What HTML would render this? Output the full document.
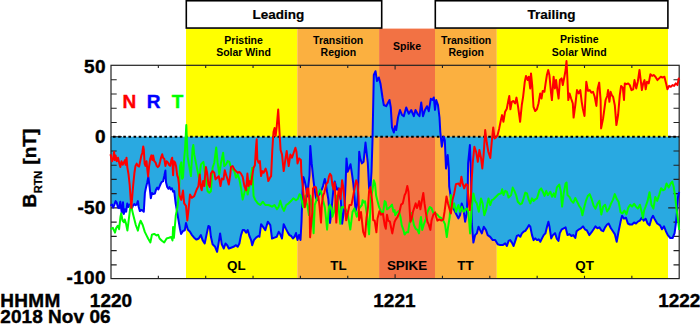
<!DOCTYPE html><html><head><meta charset="utf-8"><style>html,body{margin:0;padding:0;background:#fff;}svg{display:block;}text{font-family:"Liberation Sans",sans-serif;font-weight:bold;}.big{font-size:19px;stroke:#000;stroke-width:0.4px;letter-spacing:0.3px;}</style></head><body>
<svg width="700" height="324" viewBox="0 0 700 324">
<rect x="186" y="28.6" width="111.3" height="250.0" fill="#ffff00"/>
<rect x="297.3" y="28.6" width="81.8" height="250.0" fill="#fbb040"/>
<rect x="379.1" y="28.6" width="55.9" height="250.0" fill="#f27244"/>
<rect x="435" y="28.6" width="61.8" height="250.0" fill="#fbb040"/>
<rect x="496.8" y="28.6" width="171.2" height="250.0" fill="#ffff00"/>
<rect x="186.3" y="0.75" width="195.4" height="27.3" fill="#fff" stroke="#000" stroke-width="1.6"/>
<rect x="435.3" y="0.75" width="232.6" height="27.3" fill="#fff" stroke="#000" stroke-width="1.6"/>
<text x="278.4" y="18.6" font-size="13.5" style="stroke:#000;stroke-width:0.2px" text-anchor="middle">Leading</text>
<text x="551.4" y="18.6" font-size="13.5" style="stroke:#000;stroke-width:0.2px" text-anchor="middle">Trailing</text>
<text x="243.6" y="43.5" font-size="10.5" text-anchor="middle">Pristine</text>
<text x="243.5" y="56.0" font-size="10.5" text-anchor="middle">Solar Wind</text>
<text x="338.2" y="43.5" font-size="10.5" text-anchor="middle">Transition</text>
<text x="338.4" y="56.0" font-size="10.5" text-anchor="middle">Region</text>
<text x="407.0" y="50.0" font-size="10.5" text-anchor="middle">Spike</text>
<text x="466.2" y="43.5" font-size="10.5" text-anchor="middle">Transition</text>
<text x="466.2" y="56.0" font-size="10.5" text-anchor="middle">Region</text>
<text x="579.3" y="43.3" font-size="10.5" text-anchor="middle">Pristine</text>
<text x="579.2" y="55.8" font-size="10.5" text-anchor="middle">Solar Wind</text>
<text x="236.4" y="269.5" font-size="13.4" text-anchor="middle">QL</text>
<text x="338.5" y="269.5" font-size="13.4" text-anchor="middle">TL</text>
<text x="407.0" y="269.5" font-size="13.4" text-anchor="middle">SPIKE</text>
<text x="465.5" y="269.5" font-size="13.4" text-anchor="middle">TT</text>
<text x="584.6" y="269.5" font-size="13.4" text-anchor="middle">QT</text>
<polygon points="110.5,136.7 110.5,205.8 112.1,204.6 113.3,207.5 114.4,204.6 115.6,201.1 116.8,202.9 118.0,207.5 119.1,208.1 120.3,201.7 121.1,208.1 121.8,213.0 123.0,202.3 123.8,214.0 125.0,209.3 126.2,211.7 127.3,203.4 128.5,207.0 129.7,204.6 130.9,207.0 132.0,208.1 133.2,205.2 134.4,204.0 135.5,205.2 136.7,204.6 137.9,201.1 138.7,207.0 139.9,211.1 141.4,209.9 142.6,210.5 143.8,211.7 144.9,192.9 146.1,187.0 147.3,182.3 148.3,177.0 149.6,187.0 150.8,198.2 152.0,192.9 153.1,194.1 154.9,193.5 156.1,189.4 157.2,187.6 158.4,189.4 159.6,186.4 160.8,183.5 161.9,181.8 163.1,181.2 164.3,176.0 165.4,170.6 166.0,182.3 167.2,187.0 168.4,188.8 169.5,187.0 170.7,189.4 171.9,188.2 173.1,191.7 174.2,191.1 175.6,203.0 178.0,217.3 179.9,228.5 181.1,234.0 183.0,231.0 184.8,230.3 186.0,222.9 187.9,229.7 189.8,231.5 191.6,234.6 194.1,237.7 196.5,239.6 198.7,238.5 200.9,235.1 202.6,240.1 204.7,243.5 206.8,233.4 208.4,225.9 209.8,226.8 210.9,236.8 212.6,244.3 215.1,246.8 217.1,251.8 218.8,241.8 220.1,233.4 221.8,244.3 223.8,248.5 225.5,243.5 227.2,245.2 228.8,248.5 231.0,247.7 233.5,246.8 236.0,245.2 237.7,246.8 239.4,243.5 241.0,235.1 242.7,230.1 244.4,230.1 246.1,232.6 247.7,230.1 249.4,236.0 251.1,240.1 252.2,245.2 253.9,240.1 256.1,237.6 258.3,236.0 259.4,236.8 261.1,224.2 263.6,227.6 265.3,230.1 267.8,221.7 270.3,225.1 272.0,238.5 274.5,237.6 276.7,236.8 278.7,231.8 280.3,234.3 282.0,238.5 283.7,224.2 285.7,228.4 287.9,232.6 289.5,235.1 291.2,236.0 292.9,238.5 294.5,236.8 296.0,233.0 297.5,240.0 299.0,235.0 300.5,240.0 301.5,222.0 302.5,192.0 303.3,177.0 303.8,177.9 304.8,181.4 306.0,187.3 307.2,196.6 308.3,186.1 309.5,175.5 310.3,146.0 311.7,163.4 313.6,181.4 314.8,190.8 316.0,197.8 317.1,200.2 318.3,195.5 319.5,194.3 320.6,190.8 321.8,189.6 323.0,186.1 324.8,179.0 325.9,183.7 327.1,192.0 328.3,199.0 329.5,215.0 330.0,223.0 331.0,215.0 332.4,200.0 333.6,187.3 334.7,181.4 335.9,186.1 337.1,189.6 338.3,188.4 339.4,193.1 340.9,201.3 342.1,223.8 344.5,207.2 345.6,183.7 346.5,158.4 347.7,171.7 349.4,167.6 350.5,164.2 351.9,173.4 353.3,183.7 354.4,195.5 355.6,210.9 357.0,205.0 358.0,195.5 359.2,151.7 360.2,158.4 361.9,163.4 363.6,161.7 365.5,142.6 367.8,163.0 369.1,188.4 370.3,190.8 371.5,172.0 372.5,140.0 373.8,75.0 375.5,71.2 377.0,81.0 378.8,77.5 380.5,83.8 382.5,97.5 383.8,105.0 386.2,106.2 387.5,103.8 389.5,100.0 390.8,107.5 392.0,127.5 393.8,132.5 395.0,126.2 396.2,130.0 398.0,117.5 400.0,110.0 402.0,115.0 403.8,116.2 406.2,107.5 408.8,113.8 411.2,110.0 413.8,116.2 415.5,110.0 417.5,113.8 419.5,116.2 421.2,102.5 423.0,116.2 425.0,110.0 427.0,106.2 428.8,111.2 430.8,98.8 432.5,100.0 433.8,97.5 435.0,110.0 436.2,100.0 438.0,105.0 439.5,117.5 440.3,132.0 441.8,146.7 443.5,136.7 444.8,140.0 446.0,168.5 447.7,155.1 448.8,168.5 449.2,186.7 451.7,203.4 454.2,210.1 456.7,215.0 458.4,218.4 460.1,215.0 461.7,203.4 463.4,208.5 465.1,221.7 466.8,213.3 467.7,190.0 468.1,163.4 469.9,145.0 471.0,175.0 471.8,223.4 473.4,242.6 475.1,235.1 476.8,233.4 478.5,226.7 480.1,230.1 481.8,233.4 483.8,226.7 486.0,230.1 487.7,235.1 490.2,236.8 492.7,240.1 495.2,240.1 497.7,244.3 500.2,245.1 502.7,245.1 505.2,243.4 506.9,246.0 508.6,240.9 510.2,240.1 511.9,242.6 513.6,246.0 515.3,240.9 516.9,235.9 518.6,235.1 520.3,236.8 521.9,233.4 523.6,231.7 525.3,230.9 527.0,228.4 529.0,225.1 530.3,226.7 532.0,235.1 533.6,240.1 535.3,238.4 537.0,240.1 538.7,239.3 540.3,241.8 542.0,238.4 543.7,235.1 545.4,233.4 547.0,226.7 548.4,221.7 549.5,226.7 551.2,238.4 552.9,235.1 555.0,233.1 556.9,238.9 558.5,240.9 559.8,233.1 561.8,229.3 563.7,228.3 565.6,227.4 567.5,235.1 569.5,234.1 571.4,236.0 573.3,235.1 575.3,238.0 576.6,231.2 579.1,229.3 581.0,228.3 583.0,226.4 584.9,229.3 586.8,230.3 589.3,235.1 591.6,232.2 593.6,229.3 595.5,226.4 597.4,228.3 599.4,227.4 601.3,230.3 603.2,231.2 605.1,227.4 607.1,224.5 608.6,223.5 610.9,228.3 612.9,231.2 614.8,234.1 616.7,241.8 618.6,231.2 620.6,221.6 622.1,215.8 624.0,218.7 626.0,217.7 627.9,223.5 629.8,224.5 632.1,224.5 634.1,222.5 636.0,223.5 637.9,221.6 639.9,220.6 641.8,217.7 643.7,220.6 645.6,218.7 647.6,223.5 649.5,225.4 651.4,218.7 653.0,215.8 654.9,219.6 657.2,223.5 660.1,225.4 662.0,229.3 664.0,226.4 665.9,231.2 667.8,235.1 670.3,238.0 672.6,238.0 674.6,233.1 676.1,221.6 677.1,210.0 678.0,197.0 679.2,192.0 679.2,136.7" fill="#29a9e1"/>
<rect x="111.0" y="65.3" width="568.2" height="213.3" fill="none" stroke="#222" stroke-width="1.2"/>
<path d="M111.0,264.86h5.7M679.2,264.86h-5.7M111.0,250.62h5.7M679.2,250.62h-5.7M111.0,236.38h5.7M679.2,236.38h-5.7M111.0,222.14h5.7M679.2,222.14h-5.7M111.0,207.90h11M679.2,207.90h-11M111.0,193.66h5.7M679.2,193.66h-5.7M111.0,179.42h5.7M679.2,179.42h-5.7M111.0,165.18h5.7M679.2,165.18h-5.7M111.0,150.94h5.7M679.2,150.94h-5.7M111.0,136.70h11M679.2,136.70h-11M111.0,122.46h5.7M679.2,122.46h-5.7M111.0,108.22h5.7M679.2,108.22h-5.7M111.0,93.98h5.7M679.2,93.98h-5.7M111.0,79.74h5.7M679.2,79.74h-5.7M158.35,278.6v-2.8M158.35,65.3v2.8M205.70,278.6v-2.8M205.70,65.3v2.8M253.05,278.6v-2.8M253.05,65.3v2.8M300.40,278.6v-2.8M300.40,65.3v2.8M347.75,278.6v-2.8M347.75,65.3v2.8M395.10,278.6v-4.3M395.10,65.3v4.3M442.45,278.6v-2.8M442.45,65.3v2.8M489.80,278.6v-2.8M489.80,65.3v2.8M537.15,278.6v-2.8M537.15,65.3v2.8M584.50,278.6v-2.8M584.50,65.3v2.8M631.85,278.6v-2.8M631.85,65.3v2.8" stroke="#222" stroke-width="1.1" fill="none"/>
<line x1="111.0" y1="136.7" x2="679.2" y2="136.7" stroke="#000" stroke-width="1.9" stroke-dasharray="2.6,2.54" stroke-dashoffset="-2"/>
<polyline points="110.5,205.8 112.1,204.6 113.3,207.5 114.4,204.6 115.6,201.1 116.8,202.9 118.0,207.5 119.1,208.1 120.3,201.7 121.1,208.1 121.8,213.0 123.0,202.3 123.8,214.0 125.0,209.3 126.2,211.7 127.3,203.4 128.5,207.0 129.7,204.6 130.9,207.0 132.0,208.1 133.2,205.2 134.4,204.0 135.5,205.2 136.7,204.6 137.9,201.1 138.7,207.0 139.9,211.1 141.4,209.9 142.6,210.5 143.8,211.7 144.9,192.9 146.1,187.0 147.3,182.3 148.3,177.0 149.6,187.0 150.8,198.2 152.0,192.9 153.1,194.1 154.9,193.5 156.1,189.4 157.2,187.6 158.4,189.4 159.6,186.4 160.8,183.5 161.9,181.8 163.1,181.2 164.3,176.0 165.4,170.6 166.0,182.3 167.2,187.0 168.4,188.8 169.5,187.0 170.7,189.4 171.9,188.2 173.1,191.7 174.2,191.1 175.6,203.0 178.0,217.3 179.9,228.5 181.1,234.0 183.0,231.0 184.8,230.3 186.0,222.9 187.9,229.7 189.8,231.5 191.6,234.6 194.1,237.7 196.5,239.6 198.7,238.5 200.9,235.1 202.6,240.1 204.7,243.5 206.8,233.4 208.4,225.9 209.8,226.8 210.9,236.8 212.6,244.3 215.1,246.8 217.1,251.8 218.8,241.8 220.1,233.4 221.8,244.3 223.8,248.5 225.5,243.5 227.2,245.2 228.8,248.5 231.0,247.7 233.5,246.8 236.0,245.2 237.7,246.8 239.4,243.5 241.0,235.1 242.7,230.1 244.4,230.1 246.1,232.6 247.7,230.1 249.4,236.0 251.1,240.1 252.2,245.2 253.9,240.1 256.1,237.6 258.3,236.0 259.4,236.8 261.1,224.2 263.6,227.6 265.3,230.1 267.8,221.7 270.3,225.1 272.0,238.5 274.5,237.6 276.7,236.8 278.7,231.8 280.3,234.3 282.0,238.5 283.7,224.2 285.7,228.4 287.9,232.6 289.5,235.1 291.2,236.0 292.9,238.5 294.5,236.8 296.0,233.0 297.5,240.0 299.0,235.0 300.5,240.0 301.5,222.0 302.5,192.0 303.3,177.0 303.8,177.9 304.8,181.4 306.0,187.3 307.2,196.6 308.3,186.1 309.5,175.5 310.3,146.0 311.7,163.4 313.6,181.4 314.8,190.8 316.0,197.8 317.1,200.2 318.3,195.5 319.5,194.3 320.6,190.8 321.8,189.6 323.0,186.1 324.8,179.0 325.9,183.7 327.1,192.0 328.3,199.0 329.5,215.0 330.0,223.0 331.0,215.0 332.4,200.0 333.6,187.3 334.7,181.4 335.9,186.1 337.1,189.6 338.3,188.4 339.4,193.1 340.9,201.3 342.1,223.8 344.5,207.2 345.6,183.7 346.5,158.4 347.7,171.7 349.4,167.6 350.5,164.2 351.9,173.4 353.3,183.7 354.4,195.5 355.6,210.9 357.0,205.0 358.0,195.5 359.2,151.7 360.2,158.4 361.9,163.4 363.6,161.7 365.5,142.6 367.8,163.0 369.1,188.4 370.3,190.8 371.5,172.0 372.5,140.0 373.8,75.0 375.5,71.2 377.0,81.0 378.8,77.5 380.5,83.8 382.5,97.5 383.8,105.0 386.2,106.2 387.5,103.8 389.5,100.0 390.8,107.5 392.0,127.5 393.8,132.5 395.0,126.2 396.2,130.0 398.0,117.5 400.0,110.0 402.0,115.0 403.8,116.2 406.2,107.5 408.8,113.8 411.2,110.0 413.8,116.2 415.5,110.0 417.5,113.8 419.5,116.2 421.2,102.5 423.0,116.2 425.0,110.0 427.0,106.2 428.8,111.2 430.8,98.8 432.5,100.0 433.8,97.5 435.0,110.0 436.2,100.0 438.0,105.0 439.5,117.5 440.3,132.0 441.8,146.7 443.5,136.7 444.8,140.0 446.0,168.5 447.7,155.1 448.8,168.5 449.2,186.7 451.7,203.4 454.2,210.1 456.7,215.0 458.4,218.4 460.1,215.0 461.7,203.4 463.4,208.5 465.1,221.7 466.8,213.3 467.7,190.0 468.1,163.4 469.9,145.0 471.0,175.0 471.8,223.4 473.4,242.6 475.1,235.1 476.8,233.4 478.5,226.7 480.1,230.1 481.8,233.4 483.8,226.7 486.0,230.1 487.7,235.1 490.2,236.8 492.7,240.1 495.2,240.1 497.7,244.3 500.2,245.1 502.7,245.1 505.2,243.4 506.9,246.0 508.6,240.9 510.2,240.1 511.9,242.6 513.6,246.0 515.3,240.9 516.9,235.9 518.6,235.1 520.3,236.8 521.9,233.4 523.6,231.7 525.3,230.9 527.0,228.4 529.0,225.1 530.3,226.7 532.0,235.1 533.6,240.1 535.3,238.4 537.0,240.1 538.7,239.3 540.3,241.8 542.0,238.4 543.7,235.1 545.4,233.4 547.0,226.7 548.4,221.7 549.5,226.7 551.2,238.4 552.9,235.1 555.0,233.1 556.9,238.9 558.5,240.9 559.8,233.1 561.8,229.3 563.7,228.3 565.6,227.4 567.5,235.1 569.5,234.1 571.4,236.0 573.3,235.1 575.3,238.0 576.6,231.2 579.1,229.3 581.0,228.3 583.0,226.4 584.9,229.3 586.8,230.3 589.3,235.1 591.6,232.2 593.6,229.3 595.5,226.4 597.4,228.3 599.4,227.4 601.3,230.3 603.2,231.2 605.1,227.4 607.1,224.5 608.6,223.5 610.9,228.3 612.9,231.2 614.8,234.1 616.7,241.8 618.6,231.2 620.6,221.6 622.1,215.8 624.0,218.7 626.0,217.7 627.9,223.5 629.8,224.5 632.1,224.5 634.1,222.5 636.0,223.5 637.9,221.6 639.9,220.6 641.8,217.7 643.7,220.6 645.6,218.7 647.6,223.5 649.5,225.4 651.4,218.7 653.0,215.8 654.9,219.6 657.2,223.5 660.1,225.4 662.0,229.3 664.0,226.4 665.9,231.2 667.8,235.1 670.3,238.0 672.6,238.0 674.6,233.1 676.1,221.6 677.1,210.0 678.0,197.0 679.2,192.0" fill="none" stroke="#0000ff" stroke-width="2" stroke-linejoin="round"/>
<polyline points="110.5,229.2 112.9,227.8 115.0,232.6 116.3,227.8 117.7,225.7 119.1,229.2 120.5,216.7 121.2,213.2 122.6,220.8 124.0,222.2 124.7,219.4 126.0,223.6 127.4,230.6 128.8,219.4 130.2,208.3 130.9,204.2 132.3,211.1 133.7,216.7 135.8,225.0 137.9,230.6 139.3,224.3 140.6,220.8 142.7,225.0 144.8,231.9 146.9,236.1 148.1,238.5 150.4,242.4 151.9,234.7 154.2,233.9 156.5,235.4 158.1,234.7 159.6,238.5 161.9,240.8 164.2,242.4 166.6,238.5 168.9,237.8 171.2,237.0 172.5,240.5 173.1,227.0 173.9,237.8 175.8,215.4 177.3,207.7 178.9,195.0 179.6,176.0 180.1,165.9 181.3,162.4 182.1,178.8 183.0,177.7 184.0,160.1 185.0,150.0 186.3,125.0 187.5,156.0 189.2,166.1 190.9,176.1 192.5,149.3 193.3,145.0 194.2,154.4 195.9,162.7 197.6,171.1 199.2,179.4 200.9,164.4 203.4,161.9 205.9,179.4 207.6,191.2 209.3,192.8 210.9,191.2 212.6,167.7 214.3,162.7 216.2,147.5 217.6,162.7 219.3,174.4 221.0,162.7 223.1,152.7 224.3,166.1 226.0,164.4 227.7,161.1 229.3,161.9 231.0,167.7 232.7,169.4 234.3,171.1 236.0,177.8 237.7,174.4 239.4,179.4 241.0,187.8 242.7,199.5 244.4,192.8 246.1,186.1 247.7,194.5 249.4,186.1 251.1,176.1 252.2,167.7 253.6,196.2 255.3,200.0 257.8,203.3 260.3,205.0 262.8,201.7 265.3,205.0 268.6,205.0 272.0,206.7 274.5,205.0 277.0,209.2 278.7,206.7 280.3,200.8 282.0,206.7 284.0,210.9 286.2,205.0 288.7,203.3 291.2,200.8 293.3,198.3 296.0,200.2 297.8,199.0 299.5,194.3 300.7,195.5 301.9,201.3 303.0,207.2 304.2,199.0 305.4,195.5 306.6,202.5 307.7,207.2 309.0,215.0 310.1,195.5 311.3,201.3 312.5,215.0 313.6,233.2 314.8,204.9 316.5,200.2 318.3,193.1 320.1,189.6 321.2,192.0 323.0,200.2 324.8,207.2 326.0,218.0 327.1,229.6 328.9,207.2 330.0,204.9 331.8,209.6 332.4,216.7 334.0,212.0 335.9,200.2 337.1,195.5 338.3,204.9 340.3,223.8 341.5,207.2 344.0,207.0 347.4,212.0 350.3,229.6 352.5,212.0 354.4,208.4 356.8,216.7 359.4,208.0 361.9,205.0 362.6,200.2 363.8,202.5 365.0,201.3 367.0,215.0 369.1,234.3 370.9,197.8 372.6,189.6 373.8,180.2 375.0,183.7 376.1,195.5 377.3,200.2 379.1,207.2 381.1,211.7 382.9,214.0 384.7,201.1 385.8,202.3 387.0,209.3 388.8,208.1 390.5,206.4 392.0,204.6 393.4,211.7 394.6,210.0 395.2,215.2 397.0,212.5 398.7,211.1 400.5,217.0 401.7,225.2 403.4,229.9 404.6,234.6 406.3,232.3 408.1,232.3 409.3,224.1 410.4,219.4 411.5,213.0 412.8,219.4 414.0,225.2 415.7,228.8 417.5,229.9 419.0,233.4 419.8,224.1 421.0,217.0 422.2,229.9 423.9,224.1 425.7,219.4 427.5,212.0 429.8,207.0 431.5,208.1 433.3,212.8 435.6,213.5 437.4,214.7 439.2,217.0 441.5,218.2 443.3,220.6 445.0,224.1 446.8,237.0 448.0,227.6 449.7,217.0 450.9,195.1 452.5,208.5 454.2,203.4 455.9,211.8 458.4,205.1 460.1,211.8 461.7,206.8 463.4,211.8 465.1,210.1 466.8,208.5 468.4,211.8 470.1,233.4 471.8,206.8 473.4,193.4 475.1,200.9 476.8,203.4 478.8,211.8 481.0,198.4 482.6,203.4 484.3,215.2 486.0,210.1 488.5,198.4 490.2,205.1 491.8,200.1 493.5,199.3 496.0,196.8 498.5,194.2 501.0,193.4 502.2,189.2 503.5,195.1 505.2,190.9 506.9,191.7 508.6,197.6 511.1,195.1 512.7,187.6 514.4,190.9 516.1,195.1 517.8,201.8 520.3,204.3 521.9,203.4 523.6,198.4 525.3,192.6 527.0,193.4 528.6,199.3 530.3,203.4 532.0,198.4 533.6,200.9 535.3,199.3 537.0,198.4 539.5,190.1 541.2,188.4 542.8,191.7 544.5,195.9 546.2,190.9 547.9,195.1 550.4,191.7 552.0,196.8 553.7,193.4 555.0,197.0 556.9,187.4 559.2,184.5 560.8,191.2 562.1,206.6 563.7,193.1 565.6,183.5 566.6,182.5 567.5,195.1 569.5,197.0 571.4,200.9 573.3,202.8 575.3,198.0 577.2,201.8 579.1,205.7 581.0,208.6 582.4,215.3 583.9,208.6 585.9,200.9 587.8,196.0 589.7,194.1 591.6,198.9 593.6,205.7 595.5,208.6 597.4,203.8 599.4,200.9 601.3,214.4 603.2,206.6 605.1,204.7 607.1,211.5 609.0,208.6 610.9,203.8 612.9,199.9 614.8,194.1 616.7,198.9 618.6,201.8 620.6,212.4 622.5,213.4 624.4,210.5 626.4,214.4 628.3,207.6 630.2,204.7 632.1,206.6 634.1,203.8 636.0,206.6 637.9,208.6 639.9,204.7 641.8,212.4 642.8,218.2 644.1,210.5 645.6,206.6 647.6,200.9 649.5,192.2 651.4,204.7 653.4,208.6 655.3,197.0 657.2,200.9 659.1,195.1 661.1,188.3 663.0,190.3 664.9,189.3 666.5,183.5 668.8,187.4 670.7,183.5 672.3,181.6 673.6,186.4 675.0,195.1 676.5,208.6 678.0,220.1 679.2,230.0" fill="none" stroke="#00ff00" stroke-width="2" stroke-linejoin="round"/>
<polyline points="110.5,154.2 112.1,161.2 113.3,157.7 114.1,151.9 114.8,160.1 115.6,155.4 116.8,161.2 118.0,157.7 119.1,162.4 120.3,167.1 121.5,161.2 122.7,164.8 123.8,162.4 125.0,160.1 125.6,164.8 126.5,157.7 127.3,167.1 128.5,174.1 129.7,185.0 131.3,208.0 133.2,185.0 134.4,173.0 135.5,165.9 136.7,163.6 137.9,165.9 139.1,166.5 140.2,161.2 141.4,155.4 142.3,153.0 143.2,146.5 143.8,149.5 144.6,163.6 145.5,165.9 146.5,161.2 147.3,169.4 148.1,176.5 149.0,167.1 150.2,158.9 151.4,155.4 152.3,160.1 153.1,155.4 154.3,161.2 155.5,162.4 156.7,165.9 157.8,167.1 159.0,165.9 160.2,161.2 161.0,157.7 162.2,154.2 163.1,157.7 164.3,158.9 165.4,165.9 166.6,161.2 167.8,162.4 169.0,164.8 170.1,165.9 171.3,160.1 172.2,157.7 173.1,175.3 173.9,161.2 175.1,162.4 176.0,165.9 177.2,175.3 178.1,177.7 178.9,184.0 179.5,195.2 181.3,199.9 183.0,190.6 184.2,203.4 186.0,205.8 187.3,220.4 188.5,210.0 190.0,194.5 191.7,197.8 194.2,196.2 196.7,189.5 198.4,186.1 199.7,174.4 200.9,187.8 201.7,190.3 203.1,181.1 204.2,186.1 205.9,166.9 207.1,172.8 208.4,184.5 209.8,187.0 210.9,173.6 212.6,171.1 214.3,172.8 215.5,179.4 217.1,177.8 218.8,176.1 220.5,186.1 221.8,178.6 223.5,179.4 224.8,170.2 226.0,174.4 227.3,178.6 228.8,184.5 230.2,175.3 231.0,166.9 232.7,166.1 234.3,169.4 236.0,171.1 237.7,172.8 239.4,171.9 241.0,173.6 242.7,176.9 244.4,186.1 246.1,190.3 247.4,173.6 248.6,186.1 249.9,181.1 251.1,184.5 252.2,176.1 253.6,167.7 254.9,165.2 256.1,146.0 256.7,139.3 257.3,159.4 258.6,162.7 259.9,161.1 261.1,176.1 262.3,171.1 263.6,172.8 265.6,168.6 267.0,172.8 268.3,181.1 270.0,177.8 271.1,176.1 272.3,150.0 273.5,132.0 274.6,128.0 275.6,136.0 276.6,128.0 278.2,109.5 279.5,132.0 280.6,150.0 282.0,154.4 283.7,171.1 285.4,159.4 286.7,151.0 288.7,166.1 290.4,154.4 292.0,157.7 293.7,152.7 295.4,147.7 296.5,152.0 297.5,163.4 299.2,158.4 300.9,160.0 301.3,172.0 302.5,183.7 303.6,195.5 304.8,207.2 306.0,201.3 307.2,188.4 308.3,188.4 309.5,201.3 310.1,237.3 311.3,222.6 312.4,212.0 313.0,188.4 314.8,186.7 316.0,187.3 317.1,195.5 318.3,196.6 319.5,206.0 321.0,222.6 321.8,204.9 323.0,195.5 324.2,193.1 325.3,188.4 326.5,183.7 327.7,182.6 328.9,176.7 330.0,173.8 331.2,175.5 332.4,184.9 333.6,189.6 334.7,182.6 335.2,195.0 336.3,222.6 337.5,201.0 338.3,193.1 339.4,188.4 340.6,199.0 342.1,180.2 343.3,187.3 344.5,200.2 346.2,220.3 348.0,212.0 349.5,205.0 351.5,204.9 353.3,195.5 355.0,186.1 356.2,180.2 357.4,183.7 358.5,195.5 359.1,220.3 361.0,212.0 363.2,232.0 365.0,236.7 366.5,218.0 368.0,207.2 369.1,190.8 370.3,187.3 371.5,195.5 372.3,203.4 373.2,220.3 374.7,220.6 376.4,232.3 377.6,218.2 379.4,211.2 381.1,214.7 382.9,213.5 384.7,225.2 385.8,228.8 387.0,214.7 388.2,220.6 389.9,221.7 392.3,233.4 393.4,227.6 394.6,221.7 395.8,219.4 397.5,217.0 399.3,212.8 401.1,204.6 402.8,203.4 404.6,195.2 405.8,192.9 407.3,185.9 408.5,191.7 409.3,203.4 410.4,221.7 411.6,219.4 412.8,212.3 414.5,207.0 415.7,203.4 416.9,208.1 418.1,205.2 419.2,201.1 420.4,209.3 422.2,198.8 423.3,192.9 424.5,203.4 425.7,211.7 427.4,221.7 428.6,224.1 430.4,229.9 431.5,220.6 433.3,214.7 435.1,212.3 436.2,217.0 437.4,220.6 439.2,219.4 441.5,220.6 443.3,219.4 444.5,212.0 446.5,196.5 448.0,203.4 449.5,209.0 450.9,213.5 452.5,200.1 454.2,193.4 455.9,184.2 458.4,183.4 460.1,185.9 461.4,176.7 462.6,183.4 464.2,188.4 465.9,184.2 467.6,185.1 468.4,200.1 469.8,210.1 470.9,195.1 471.8,178.4 472.7,163.4 474.4,146.7 476.1,151.7 477.8,161.8 479.4,150.0 481.1,158.4 482.3,168.5 483.6,155.1 485.2,130.0 486.8,143.0 488.4,152.0 490.3,158.0 491.6,143.4 493.2,127.5 494.6,138.4 496.0,137.5 497.6,135.1 499.2,128.4 500.9,120.1 502.1,115.1 503.4,121.8 505.1,111.7 506.8,108.8 508.4,100.1 509.3,96.0 510.4,109.3 511.8,101.8 513.4,101.0 515.1,103.5 516.5,97.6 518.1,106.8 519.5,117.0 520.1,121.8 521.8,105.0 523.1,96.8 524.8,81.7 526.0,75.9 527.7,80.0 528.8,76.7 530.2,88.4 531.0,73.4 532.2,85.1 533.5,106.8 535.2,111.0 536.9,109.3 538.5,103.5 540.2,93.4 541.5,98.5 542.7,90.9 544.4,91.8 545.6,83.4 546.9,75.0 548.2,70.0 549.4,75.0 551.1,93.4 551.9,100.1 553.6,76.7 554.9,88.4 556.1,80.0 557.3,90.1 558.6,98.5 559.9,80.0 561.6,78.4 562.8,85.1 564.4,76.7 565.6,70.0 566.5,61.0 567.3,76.7 568.3,100.1 569.5,93.4 571.1,98.5 572.8,103.5 573.6,117.6 575.3,105.0 577.0,90.1 578.7,93.4 580.3,90.1 581.7,101.8 582.8,108.5 584.5,116.0 586.3,81.7 588.0,90.9 589.7,90.1 591.4,92.6 593.0,91.8 594.7,96.8 596.4,105.9 597.7,88.4 599.2,82.6 600.6,100.1 601.1,128.4 603.1,118.4 605.6,100.0 607.2,96.0 608.1,90.1 609.4,101.8 610.6,91.8 611.8,95.1 613.1,96.8 614.8,105.2 616.4,125.1 618.1,115.0 619.8,95.1 621.1,85.9 622.8,87.6 624.0,100.0 624.8,83.4 626.5,84.2 628.2,83.4 629.8,85.1 631.5,90.1 633.2,89.3 634.5,80.1 636.2,88.4 637.8,81.7 639.5,70.0 640.7,80.1 641.9,90.1 643.2,83.4 644.5,80.1 645.7,89.3 647.0,81.7 648.7,83.4 650.4,74.2 652.1,75.9 653.7,75.0 655.4,76.7 657.4,80.1 659.1,78.4 660.8,76.7 662.4,77.6 664.4,76.7 666.1,83.4 667.4,89.3 669.1,85.9 670.8,86.8 672.5,85.1 674.1,85.9 675.8,83.4 677.5,85.1 678.7,78.4 679.2,80.0" fill="none" stroke="#ff0000" stroke-width="2" stroke-linejoin="round"/>
<text x="105.8" y="72.5" class="big" text-anchor="end">50</text>
<text x="105.8" y="143.0" class="big" text-anchor="end">0</text>
<text x="105.8" y="214.2" class="big" text-anchor="end">-50</text>
<text x="105.8" y="283.5" class="big" text-anchor="end">-100</text>
<text x="122.4" y="108" class="big" style="stroke:#ff0000" fill="#ff0000">N</text>
<text x="146.8" y="108" class="big" style="stroke:#0000ff" fill="#0000ff">R</text>
<text x="171.8" y="108" class="big" style="stroke:#00ff00" fill="#00ff00">T</text>
<text x="0.3" y="307.2" class="big">HHMM</text>
<text x="111" y="307.2" class="big" style="letter-spacing:0" text-anchor="middle">1220</text>
<text x="394.4" y="307.2" class="big" style="letter-spacing:0" text-anchor="middle">1221</text>
<text x="679.3" y="307.2" class="big" style="letter-spacing:0" text-anchor="middle">1222</text>
<text x="0.3" y="323.3" class="big" style="letter-spacing:0.05px">2018 Nov 06</text>
<text transform="translate(35.9,207.4) rotate(-90)" class="big">B</text>
<text transform="translate(42.1,193.3) rotate(-90)" font-size="11" style="stroke:#000;stroke-width:0.25px">RTN</text>
<text transform="translate(35.9,164.6) rotate(-90)" class="big" style="letter-spacing:0">[nT]</text>
</svg></body></html>
